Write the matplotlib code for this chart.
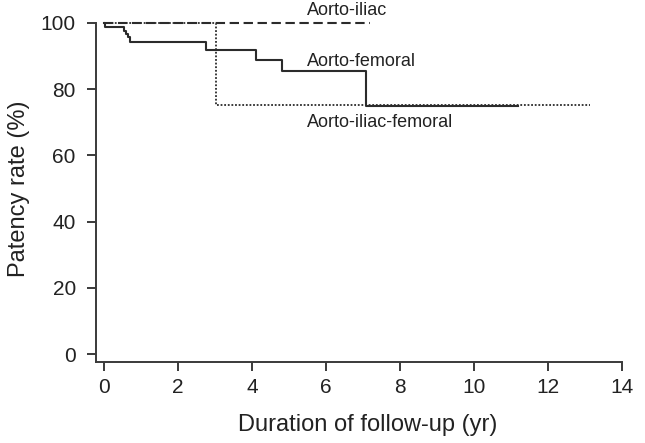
import matplotlib.pyplot as plt

plt.rcParams['font.family'] = ['Liberation Sans', 'DejaVu Sans']

# Kaplan-Meier style patency curves (years, %)
iliac_t = [0, 7.2]
iliac_s = [100, 100]

fem_t = [0, 0.03, 0.53, 0.6, 0.65, 0.71, 2.76, 4.1, 4.81, 7.09, 11.2]
fem_s = [100, 98.6, 97.6, 96.6, 95.6, 94.3, 91.8, 88.9, 85.4, 75.0, 75.0]

ilfem_t = [0, 3.03, 13.15]
ilfem_s = [100, 75.2, 75.2]

labels = ['Aorto-iliac', 'Aorto-femoral', 'Aorto-iliac-femoral']
label_x = [5.48, 5.48, 5.48]
label_y = [102.3, 86.9, 68.6]

xticks = [0, 2, 4, 6, 8, 10, 12, 14]
yticks = [0, 20, 40, 60, 80, 100]

col = '#2b2b2b'
fig = plt.figure(figsize=(6.45, 4.43), dpi=100)
ax = fig.add_axes([0.1488, 0.1828, 0.844, 0.7808])

ax.step(iliac_t, iliac_s, where='post', color=col, lw=1.5,
        linestyle=(0, (4.5, 2.2)), clip_on=False)
ax.step(fem_t, fem_s, where='post', color=col, lw=1.5, clip_on=False)
ax.step(ilfem_t, ilfem_s, where='post', color=col, lw=1.3,
        linestyle=(0, (1, 1)), clip_on=False)

for lab, x, y in zip(labels, label_x, label_y):
    ax.text(x, y, lab, fontsize=13, color='#222222', va='baseline', ha='left')

ax.set_xlim(-0.22, 14.5)
ax.set_ylim(-2.4, 102)
ax.set_xticks(xticks)
ax.set_yticks(yticks)
ax.spines['top'].set_visible(False)
ax.spines['right'].set_visible(False)
ax.spines['left'].set_bounds(-2.4, 100)
ax.spines['bottom'].set_bounds(-0.22, 14)
for s in ['left', 'bottom']:
    ax.spines[s].set_color('#3a3a3a')
    ax.spines[s].set_linewidth(1.4)
ax.tick_params(axis='both', direction='out', length=6.5, width=1.4,
               color='#3a3a3a', labelsize=15, labelcolor='#222222')
ax.tick_params(axis='y', pad=8)
ax.tick_params(axis='x', pad=5)

ax.set_xlabel('Duration of follow-up (yr)', fontsize=17, color='#222222', labelpad=12)
ax.set_ylabel('Patency rate (%)', fontsize=17, color='#222222', labelpad=8)

fig.savefig('out.png', dpi=100)
